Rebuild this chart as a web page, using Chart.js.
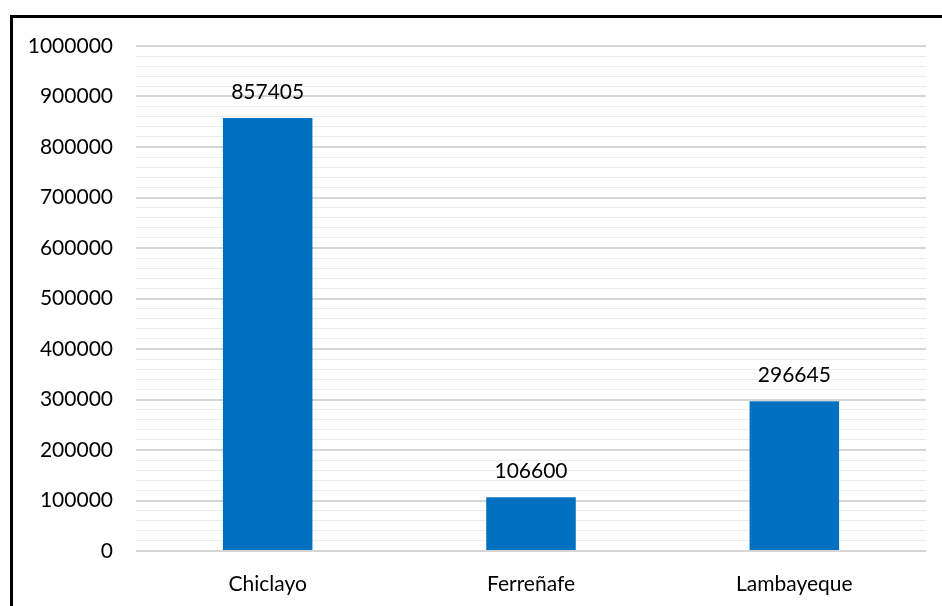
<!DOCTYPE html>
<html>
<head>
<meta charset="utf-8">
<script src="https://cdn.jsdelivr.net/npm/chart.js@4/dist/chart.umd.min.js"></script>
<style>
  html, body { margin: 0; padding: 0; background: #fff; }
  body { width: 942px; height: 606px; position: relative; overflow: hidden; }
  #frame {
    position: absolute; left: 10px; top: 15px; right: 0; bottom: 0;
    border-top: 3px solid #000; border-left: 3px solid #000;
  }
  #wrap { position: absolute; left: 0; top: 0; width: 929px; height: 588px; }
</style>
</head>
<body>
<div id="frame"><div id="wrap"><canvas id="c" width="929" height="588"></canvas></div></div>
<script>
// Población por provincia
const categories = ['Chiclayo', 'Ferreñafe', 'Lambayeque'];
const population = [857405, 106600, 296645];

// Axis range: labelled every 100000, light minor lines every 20000
const yMin = 0;
const yMax = 1000000;
const yMajorStep = 100000;
const yMinorStep = 20000;

const FONT = { family: 'Lato, "Open Sans", sans-serif', size: 21 };
const TEXT = '#000';

// Writes each bar's value centred above it
const valueLabels = {
  id: 'valueLabels',
  afterDatasetsDraw(chart) {
    const { ctx } = chart;
    const meta = chart.getDatasetMeta(0);
    ctx.save();
    ctx.font = `${FONT.size}px ${FONT.family}`;
    ctx.fillStyle = TEXT;
    ctx.textAlign = 'center';
    ctx.textBaseline = 'alphabetic';
    meta.data.forEach((bar, i) => {
      ctx.fillText(String(chart.data.datasets[0].data[i]), bar.x, bar.y - 19);
    });
    ctx.restore();
  }
};

new Chart(document.getElementById('c'), {
  type: 'bar',
  data: {
    labels: categories,
    datasets: [{
      data: population,
      backgroundColor: '#0070C0',
      borderWidth: 0,
      barPercentage: 0.34,
      categoryPercentage: 1.0
    }]
  },
  options: {
    responsive: false,
    animation: false,
    layout: { padding: { left: 0, right: 16, top: 28, bottom: 0 } },
    plugins: { legend: { display: false }, tooltip: { enabled: false } },
    scales: {
      x: {
        grid: { display: false },
        border: { display: false },
        ticks: { color: TEXT, font: FONT, padding: 13 },
        afterFit(scale) { scale.height = 55; scale.paddingLeft = 0; scale.paddingRight = 0; }
      },
      y: {
        min: yMin,
        max: yMax,
        border: { display: false },
        grid: {
          drawTicks: false,
          color: ctx => (ctx.tick && ctx.tick.value % yMajorStep === 0) ? '#d6d6d6' : '#ececec',
          lineWidth: ctx => (ctx.tick && ctx.tick.value % yMajorStep === 0) ? 2 : 1
        },
        ticks: {
          stepSize: yMinorStep,
          autoSkip: false,
          color: TEXT,
          font: FONT,
          padding: 23,
          callback: v => (v % yMajorStep === 0 ? String(v) : '')
        },
        afterFit(scale) { scale.width = 123; scale.paddingTop = 0; scale.paddingBottom = 0; }
      }
    }
  },
  plugins: [valueLabels]
});
</script>
</body>
</html>
